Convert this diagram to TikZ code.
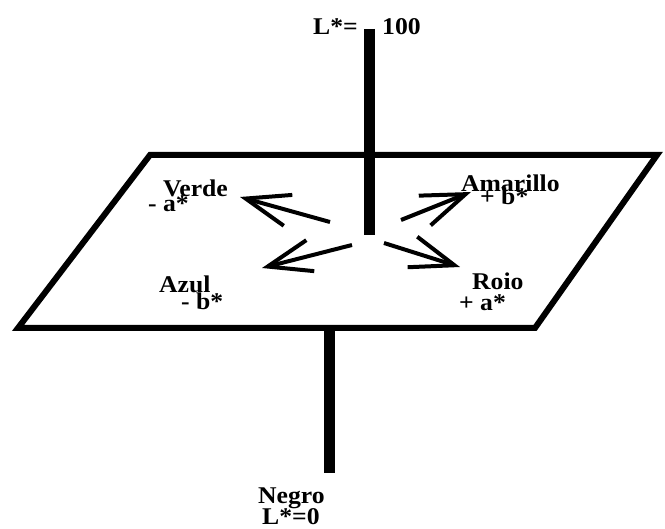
\documentclass[tikz,border=0pt]{standalone}
\usepackage{fontspec}
\setmainfont{Liberation Serif}
\newfontfamily\etiqueta[FakeStretch=1.07]{Liberation Serif}
\usetikzlibrary{arrows.meta}

\begin{document}
\begin{tikzpicture}[
    x=1pt, y=-1pt,
    lbl/.style={anchor=base west, inner sep=0pt, font=\etiqueta\bfseries\fontsize{24}{24}\selectfont},
    plane/.style={line width=6pt, line join=miter, fill=white},
    axis/.style={line width=11pt},
    arrow/.style={line width=4pt, -{Straight Barb[length=44pt, width=32pt]}}
]
\useasboundingbox (0,0) rectangle (665,529);

% plano a*b*
\draw[plane] (18,328) -- (150,155) -- (657,155) -- (535,328) -- cycle;

% eje L*
\coordinate (Ltop) at (369,29);
\coordinate (Lmid) at (369,235);
\coordinate (Lbot1) at (329.5,326);
\coordinate (Lbot2) at (329.5,473);
\draw[axis] (Ltop) -- (Lmid);
\draw[axis] (Lbot1) -- (Lbot2);

% flechas de color
\coordinate (v0) at (330,222);
\coordinate (v1) at (240,197);
\coordinate (am0) at (401,220);
\coordinate (am1) at (471,192);
\coordinate (az0) at (352,245);
\coordinate (az1) at (262,268);
\coordinate (r0) at (384,243);
\coordinate (r1) at (460,267);
\draw[arrow] (v0) -- (v1);
\draw[arrow] (am0) -- (am1);
\draw[arrow] (az0) -- (az1);
\draw[arrow] (r0) -- (r1);

% textos
\node[lbl] (blancoA) at (313,35) {L*=};
\node[lbl] (blancoB) at (382,35) {100};
\node[lbl] (verde) at (163,197) {Verde};
\node[lbl] (verdeA) at (148,212) {- a*};
\node[lbl] (amarillo) at (461,192) {Amarillo};
\node[lbl] (amarilloB) at (480,205) {+ b*};
\node[lbl] (azul) at (159,293) {Azul};
\node[lbl] (azulB) at (181,310) {- b*};
\node[lbl] (rojo) at (472,290) {Roio};
\node[lbl] (rojoA) at (459,311) {+ a*};
\node[lbl] (negro) at (258,504) {Negro};
\node[lbl] (negroL) at (262,525) {L*=0};
\end{tikzpicture}
\end{document}
